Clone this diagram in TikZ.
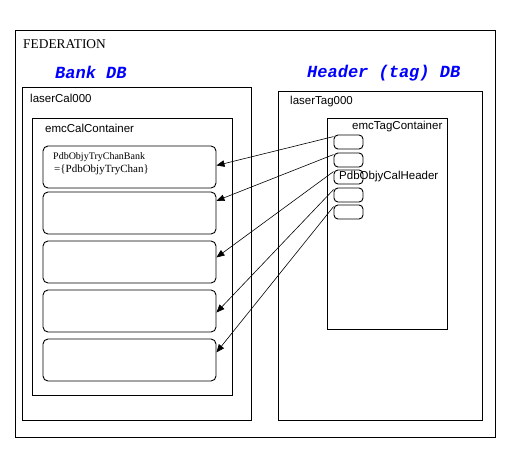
\documentclass[tikz,border=0pt]{standalone}
\usepackage{fontspec}
\setmainfont{Liberation Serif}
\newfontfamily\hsans{Liberation Sans}
\newfontfamily\hmono{Liberation Mono}
\usetikzlibrary{arrows.meta}
\begin{document}
\begin{tikzpicture}[x=1pt,y=-1pt,
  box/.style={draw,line width=0.9pt,inner sep=0pt},
  rbox/.style={draw,line width=0.9pt,inner sep=0pt,rounded corners=5pt},
  sbox/.style={draw,line width=0.9pt,inner sep=0pt,rounded corners=4pt},
  lbl/.style={anchor=west,inner sep=0pt},
  dbtitle/.style={anchor=west,inner sep=0pt,text=blue,font=\hmono\bfseries\itshape\fontsize{17}{17}\selectfont},
  sanslbl/.style={anchor=west,inner sep=0pt,font=\hsans\fontsize{11.5}{12}\selectfont},
  link/.style={line width=0.6pt,-{Triangle[length=8pt,width=6.5pt]}}]
\useasboundingbox (0,0) rectangle (532,453);
\fill[white] (0,0) rectangle (532,453);
% boxes
\node[box,minimum width=480pt,minimum height=407pt] (fed) at (255,233.5) {};
\node[box,minimum width=229pt,minimum height=333pt] (calDB) at (136.5,253.5) {};
\node[box,minimum width=200pt,minimum height=277pt] (calC) at (132,256.5) {};
\node[rbox,minimum width=173pt,minimum height=42pt] (b1) at (129.5,167) {};
\node[rbox,minimum width=173pt,minimum height=42pt] (b2) at (129.5,213) {};
\node[rbox,minimum width=173pt,minimum height=42pt] (b3) at (129.5,262) {};
\node[rbox,minimum width=173pt,minimum height=42pt] (b4) at (129.5,311) {};
\node[rbox,minimum width=173pt,minimum height=42pt] (b5) at (129.5,360) {};
\node[box,minimum width=204pt,minimum height=329pt] (tagDB) at (380,255.5) {};
\node[box,minimum width=120pt,minimum height=211pt] (tagC) at (387.5,223.5) {};
\node[sbox,minimum width=29pt,minimum height=14pt] (s1) at (348.5,142) {};
\node[sbox,minimum width=29pt,minimum height=14pt] (s2) at (348.5,160) {};
\node[sbox,minimum width=29pt,minimum height=14pt] (s3) at (348.5,177) {};
\node[sbox,minimum width=29pt,minimum height=14pt] (s4) at (348.5,195) {};
\node[sbox,minimum width=29pt,minimum height=14pt] (s5) at (348.5,212) {};
% labels
\node[lbl,font=\fontsize{13.4}{14}\selectfont] (tfed) at (23,44) {FEDERATION};
\node[dbtitle] (tbank) at (55,72) {Bank DB};
\node[dbtitle] (thead) at (307,73) {Header (tag) DB};
\node[sanslbl] (tcal) at (30,98) {laserCal000};
\node[sanslbl] (tcalc) at (45,128) {emcCalContainer};
\node[sanslbl] (ttag) at (290,102) {laserTag000};
\node[sanslbl] (ttagc) at (352,127) {emcTagContainer};
\node[sanslbl] (thdr) at (339,176.5) {PdbObjyCalHeader};
\node[lbl,font=\fontsize{10}{10}\selectfont] (tb1a) at (53,157.5) {PdbObjyTryChanBank};
\node[lbl,font=\fontsize{11}{11}\selectfont] (tb1b) at (54,170) {=\{PdbObjyTryChan\}};
% links
\draw[link] (s1.160) -- (b1.1);
\draw[link] (s2.160) -- (b2.8);
\draw[link] (s3.160) -- (b3.3);
\draw[link] (s4.160) -- (b4.-1);
\draw[link] (s5.160) -- (b5.5);
\end{tikzpicture}
\end{document}
